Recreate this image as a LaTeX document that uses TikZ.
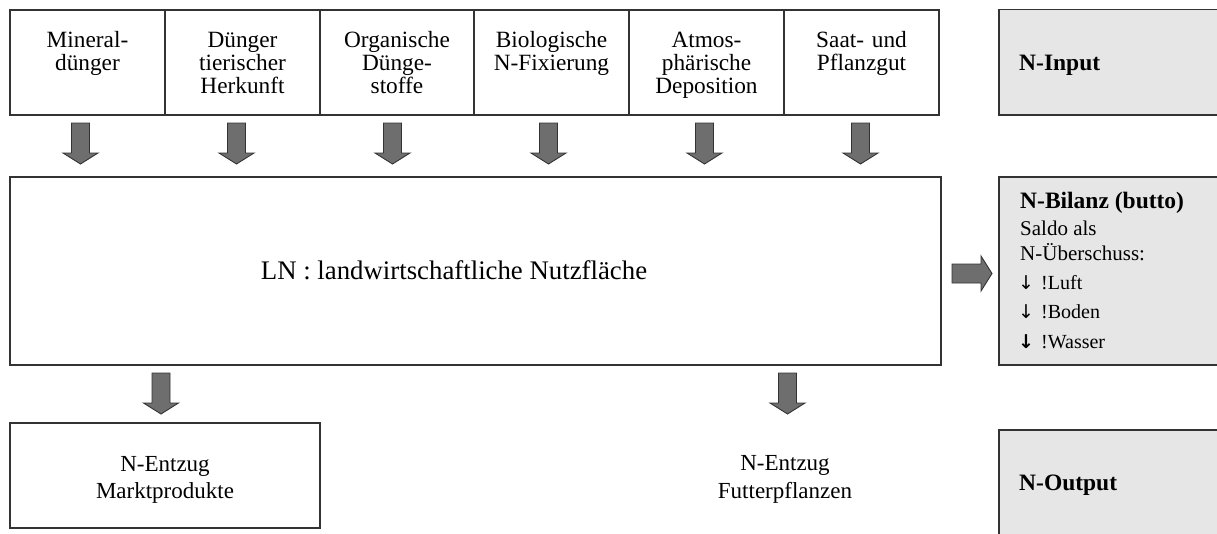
\documentclass[tikz,border=0pt]{standalone}
\usepackage{fontspec}
\setmainfont{Liberation Serif}
\newfontfamily\arrowfont{DejaVu Sans}
\definecolor{bordercol}{HTML}{333333}
\definecolor{boxgray}{HTML}{E6E6E6}
\definecolor{arrgray}{HTML}{6E6E6E}
\begin{document}
\begin{tikzpicture}[x=1pt,y=-1pt,
  box/.style={draw=bordercol, line width=1.3pt, inner sep=0pt, fill=white},
  graybox/.style={box, fill=boxgray},
  toptext/.style={font=\fontsize{23.3}{23.3}\selectfont, inner sep=0pt, text width=150pt, align=center, anchor=base},
  bottext/.style={font=\fontsize{23}{26.6}\selectfont, inner sep=0pt, text width=300pt, align=center, anchor=base},
  sidehead/.style={font=\fontsize{23.5}{26}\selectfont\bfseries, inner sep=0pt, anchor=base west},
  sideline/.style={font=\fontsize{21}{24}\selectfont, inner sep=0pt, anchor=base west},
  sidesmall/.style={font=\fontsize{20}{24}\selectfont, inner sep=0pt, anchor=base west},
  sidearrow/.style={font=\arrowfont\fontsize{19}{24}\selectfont, inner sep=0pt, anchor=base west},
  blockarr/.style={draw=bordercol, line width=0.9pt, fill=arrgray, line join=miter},
  downarr/.pic={\draw[blockarr] (-9,0) -- (9,0) -- (9,30) -- (17.5,30) -- (0,41) -- (-17.5,30) -- (-9,30) -- cycle;},
  rightarr/.pic={\draw[blockarr] (0,-9.5) -- (29,-9.5) -- (29,-17.5) -- (40,0) -- (29,17.5) -- (29,9.5) -- (0,9.5) -- cycle;}
]
\useasboundingbox (0,0) rectangle (1217,533);

% top input boxes
\node[box, minimum width=155pt, minimum height=105pt] (b1) at (87.5,62.5) {};
\node[box, minimum width=155pt, minimum height=105pt] (b2) at (242.5,62.5) {};
\node[box, minimum width=154pt, minimum height=105pt] (b3) at (397,62.5) {};
\node[box, minimum width=155pt, minimum height=105pt] (b4) at (551.5,62.5) {};
\node[box, minimum width=155pt, minimum height=105pt] (b5) at (706.5,62.5) {};
\node[box, minimum width=155pt, minimum height=105pt] (b6) at (861.5,62.5) {};

\node[toptext] (t1) at (87.5,47) {Mineral-\\dünger};
\node[toptext] (t2) at (242.5,47) {Dünger\\tierischer\\Herkunft};
\node[toptext] (t3) at (397,47) {Organische\\Dünge-\\stoffe};
\node[toptext] (t4) at (551.5,47) {Biologische\\N-Fixierung};
\node[toptext] (t5) at (706.5,47) {Atmos-\\phärische\\Deposition};
\node[toptext] (t6) at (861.5,47) {Saat- und\\Pflanzgut};

% main box
\node[box, minimum width=931pt, minimum height=188pt] (ln) at (475.5,271) {};
\node[font=\fontsize{26.8}{30}\selectfont, inner sep=0pt, anchor=base] (lntext) at (454,279) {LN : landwirtschaftliche Nutzfläche};

% bottom
\node[box, minimum width=310pt, minimum height=105pt] (mp) at (165,475.5) {};
\node[bottext] (mptext) at (165,471.7) {N-Entzug\\Marktprodukte};
\node[font=\fontsize{23}{28}\selectfont, inner sep=0pt, text width=300pt, align=center, anchor=base] (fp) at (785,470) {N-Entzug\\Futterpflanzen};

% right gray boxes
\node[graybox, minimum width=226pt, minimum height=105.5pt] (inp) at (1112,62.25) {};
\node[graybox, minimum width=226pt, minimum height=188pt] (bil) at (1112,271) {};
\node[graybox, minimum width=226pt, minimum height=110pt] (outp) at (1112,485) {};

\node[sidehead] (inptext) at (1019,70) {N-Input};
\node[sidehead] (outptext) at (1019,490) {N-Output};
\node[sidehead] (bil1) at (1020,208) {N-Bilanz (butto)};
\node[sideline] (bil2) at (1020,235) {Saldo als};
\node[sideline] (bil3) at (1020,260) {N-Überschuss:};
\node[sidearrow] (a4) at (1018,289) {↓};
\node[sidearrow] (a5) at (1018,318) {↓};
\node[sidearrow] (a6) at (1018,348) {\bfseries ↓};
\node[sidesmall] (bil4) at (1041,289) {!Luft};
\node[sidesmall] (bil5) at (1041,318) {!Boden};
\node[sidesmall] (bil6) at (1041,348) {!Wasser};

% block arrows
\pic at (80.5,123) {downarr};
\pic at (236.5,123) {downarr};
\pic at (392.5,123) {downarr};
\pic at (548.5,123) {downarr};
\pic at (704.5,123) {downarr};
\pic at (860.5,123) {downarr};
\pic at (161,373) {downarr};
\pic at (787.5,373) {downarr};
\pic at (952,273.5) {rightarr};
\end{tikzpicture}
\end{document}
